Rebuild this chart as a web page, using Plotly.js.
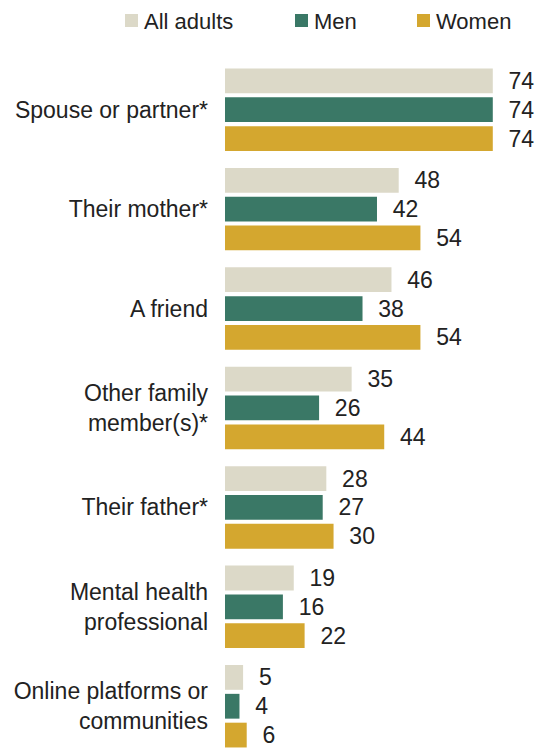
<!DOCTYPE html>
<html>
<head>
<meta charset="utf-8">
<script src="https://cdn.plot.ly/plotly-3.0.1.min.js"></script>
<style>html,body{margin:0;padding:0;background:#fff;}#chart{width:543px;height:748px;}</style>
</head>
<body>
<div id="chart"></div>
<script>
const categories = ["Spouse or partner*", "Their mother*", "A friend", "Other family<br>member(s)*", "Their father*", "Mental health<br>professional", "Online platforms or<br>communities"];
const allAdults = [74, 48, 46, 35, 28, 19, 5];
const men = [74, 42, 38, 26, 27, 16, 4];
const women = [74, 54, 54, 44, 30, 22, 6];
const seriesNames = ["All adults", "Men", "Women"];
const seriesColors = ["#dcd9c8", "#3a7866", "#d4a72f"];

const FONT = "Liberation Sans, Arial, sans-serif";
const FS = 23;
const LFS = 22;
const W = 543, H = 748;
const M = {l: 225, r: 18, t: 60, b: 0};
const pw = W - M.l - M.r, ph = H - M.t - M.b;
const px2x = p => (p - M.l) / pw;
const py2y = p => (H - M.b - p) / ph;

const seriesData = [allAdults, men, women];
const traces = seriesData.map((vals, i) => ({
  type: "bar",
  orientation: "h",
  name: seriesNames[i],
  y: categories,
  x: vals,
  text: vals.map(v => "\u00a0\u00a0" + v),
  textposition: "outside",
  constraintext: "none",
  cliponaxis: false,
  textfont: {family: FONT, size: FS, color: "#222"},
  marker: {color: seriesColors[i], line: {width: 0}},
  hoverinfo: "skip",
  showlegend: false
}));

// custom legend (swatch + label), laid out in pixels
const legendSwatchLeft = [125, 295, 417];
const shapes = [], annotations = [];
seriesNames.forEach((n, i) => {
  const x0 = legendSwatchLeft[i];
  shapes.push({type: "rect", xref: "paper", yref: "paper",
    x0: px2x(x0), x1: px2x(x0 + 13), y0: py2y(27), y1: py2y(14),
    fillcolor: seriesColors[i], line: {width: 0}});
  annotations.push({xref: "paper", yref: "paper", x: px2x(x0 + 17), y: py2y(21),
    xanchor: "left", yanchor: "middle", showarrow: false, text: n,
    font: {family: FONT, size: LFS, color: "#222"}});
});

const layout = {
  width: W, height: H,
  margin: M,
  paper_bgcolor: "#fff", plot_bgcolor: "#fff",
  font: {family: FONT, size: FS, color: "#222"},
  barmode: "group",
  bargap: 0.13,
  bargroupgap: 0.14,
  showlegend: false,
  shapes: shapes,
  annotations: annotations,
  xaxis: {range: [0, 82.9], visible: false, fixedrange: true},
  yaxis: {
    type: "category",
    categoryorder: "array", categoryarray: categories,
    range: [6.42, -0.5],
    showgrid: false, zeroline: false, showline: false, ticks: "",
    ticklabelstandoff: 16,
    tickfont: {family: FONT, size: FS, color: "#222"},
    fixedrange: true
  }
};

Plotly.newPlot("chart", traces, layout, {displayModeBar: false, staticPlot: true});
</script>
</body>
</html>
